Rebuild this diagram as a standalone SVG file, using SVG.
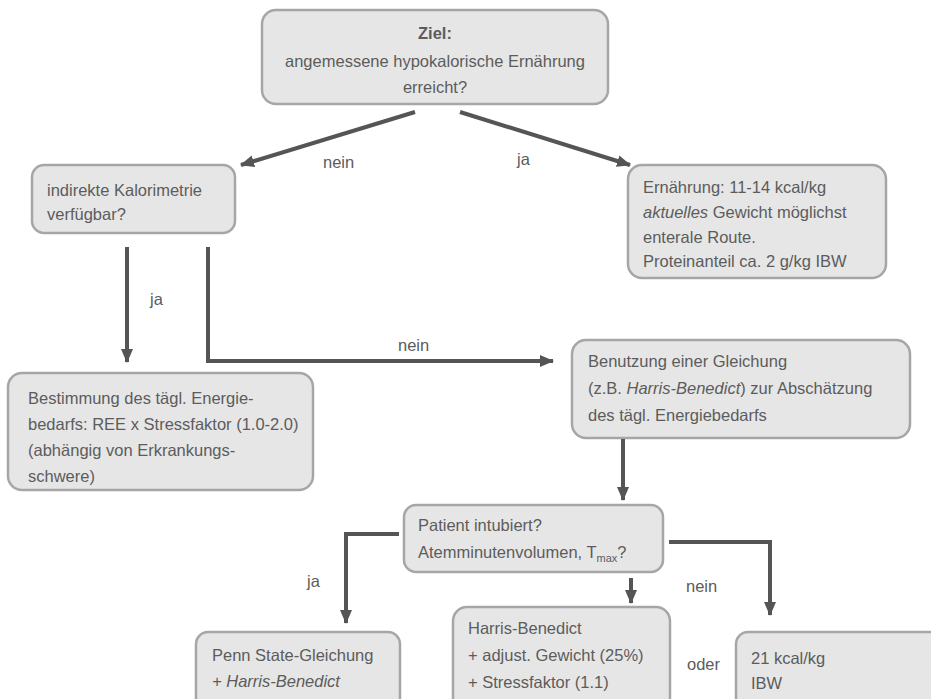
<svg xmlns="http://www.w3.org/2000/svg" width="931" height="699" viewBox="0 0 931 699">
<defs>
<marker id="ah" markerUnits="userSpaceOnUse" markerWidth="14" markerHeight="14" viewBox="0 0 14 14" refX="13" refY="7" orient="auto">
<path d="M0,1 L14,7 L0,13 Z" fill="#555555"/>
</marker>
</defs>
<style>
.box{fill:#e6e6e6;stroke:#a6a6a6;stroke-width:2.5}
.t{font-family:"Liberation Sans",Arial,sans-serif;font-size:16.5px;fill:#5c5c5c}
.b{font-weight:bold}
.i{font-style:italic}
.c{fill:none;stroke:#555555;stroke-width:4}
</style>
<rect width="931" height="699" fill="#ffffff"/>
<g id="n-ziel">
<rect class="box" x="262" y="10" width="346" height="94" rx="14"/>
<text class="t" text-anchor="middle"><tspan class="b" x="435" y="39">Ziel:</tspan><tspan x="435" y="67">angemessene hypokalorische Ernährung</tspan><tspan x="435" y="93">erreicht?</tspan></text>
</g>
<g id="n-kalorimetrie">
<rect class="box" x="32" y="165" width="203" height="68" rx="12"/>
<text class="t"><tspan x="47" y="196">indirekte Kalorimetrie</tspan><tspan x="47" y="220">verfügbar?</tspan></text>
</g>
<g id="n-ernaehrung">
<rect class="box" x="628" y="165" width="258" height="113" rx="14"/>
<text class="t"><tspan x="643" y="193">Ernährung: 11-14 kcal/kg</tspan><tspan x="643" y="218"><tspan class="i">aktuelles</tspan> Gewicht möglichst</tspan><tspan x="643" y="243">enterale Route.</tspan><tspan x="643" y="267">Proteinanteil ca. 2 g/kg IBW</tspan></text>
</g>
<g id="n-bestimmung">
<rect class="box" x="8" y="373" width="305" height="117" rx="14"/>
<text class="t"><tspan x="28" y="404">Bestimmung des tägl. Energie-</tspan><tspan x="28" y="430">bedarfs: REE x Stressfaktor (1.0-2.0)</tspan><tspan x="28" y="456">(abhängig von Erkrankungs-</tspan><tspan x="28" y="482">schwere)</tspan></text>
</g>
<g id="n-gleichung">
<rect class="box" x="572" y="340" width="338" height="98" rx="14"/>
<text class="t"><tspan x="588" y="367">Benutzung einer Gleichung</tspan><tspan x="588" y="394">(z.B. <tspan class="i">Harris-Benedict</tspan>) zur Abschätzung</tspan><tspan x="588" y="421">des tägl. Energiebedarfs</tspan></text>
</g>
<g id="n-patient">
<rect class="box" x="404" y="505" width="259" height="67" rx="12"/>
<text class="t"><tspan x="418" y="531">Patient intubiert?</tspan><tspan x="418" y="558">Atemminutenvolumen, T<tspan font-size="11" dy="4">max</tspan><tspan dy="-4">?</tspan></tspan></text>
</g>
<g id="n-penn">
<rect class="box" x="196" y="632" width="204" height="80" rx="12"/>
<text class="t"><tspan x="212" y="661">Penn State-Gleichung</tspan><tspan class="i" x="212" y="687">+ Harris-Benedict</tspan></text>
</g>
<g id="n-harris">
<rect class="box" x="453" y="607" width="217" height="105" rx="14"/>
<text class="t"><tspan x="468" y="634">Harris-Benedict</tspan><tspan x="468" y="661">+ adjust. Gewicht (25%)</tspan><tspan x="468" y="688">+ Stressfaktor (1.1)</tspan></text>
</g>
<g id="n-kcal">
<rect class="box" x="736" y="632" width="210" height="80" rx="12"/>
<text class="t"><tspan x="751" y="664">21 kcal/kg</tspan><tspan x="751" y="689">IBW</tspan></text>
</g>
<g id="connectors">
<path class="c" d="M415,112 L241,165" marker-end="url(#ah)"/>
<path class="c" d="M460,112 L630,165" marker-end="url(#ah)"/>
<path class="c" d="M127,247 L127,362" marker-end="url(#ah)"/>
<path class="c" d="M208,247 L208,361 L553,361" marker-end="url(#ah)"/>
<path class="c" d="M623,439 L623,500" marker-end="url(#ah)"/>
<path class="c" d="M399,534 L346,534 L346,623" marker-end="url(#ah)"/>
<path class="c" d="M669,542 L770,542 L770,615" marker-end="url(#ah)"/>
<path class="c" d="M631,578 L631,603" marker-end="url(#ah)"/>
</g>
<g id="labels">
<text class="t" x="323" y="168">nein</text>
<text class="t" x="517" y="165">ja</text>
<text class="t" x="150" y="305">ja</text>
<text class="t" x="398" y="351">nein</text>
<text class="t" x="307" y="587">ja</text>
<text class="t" x="686" y="592">nein</text>
<text class="t" x="687" y="670">oder</text>
</g>
</svg>
